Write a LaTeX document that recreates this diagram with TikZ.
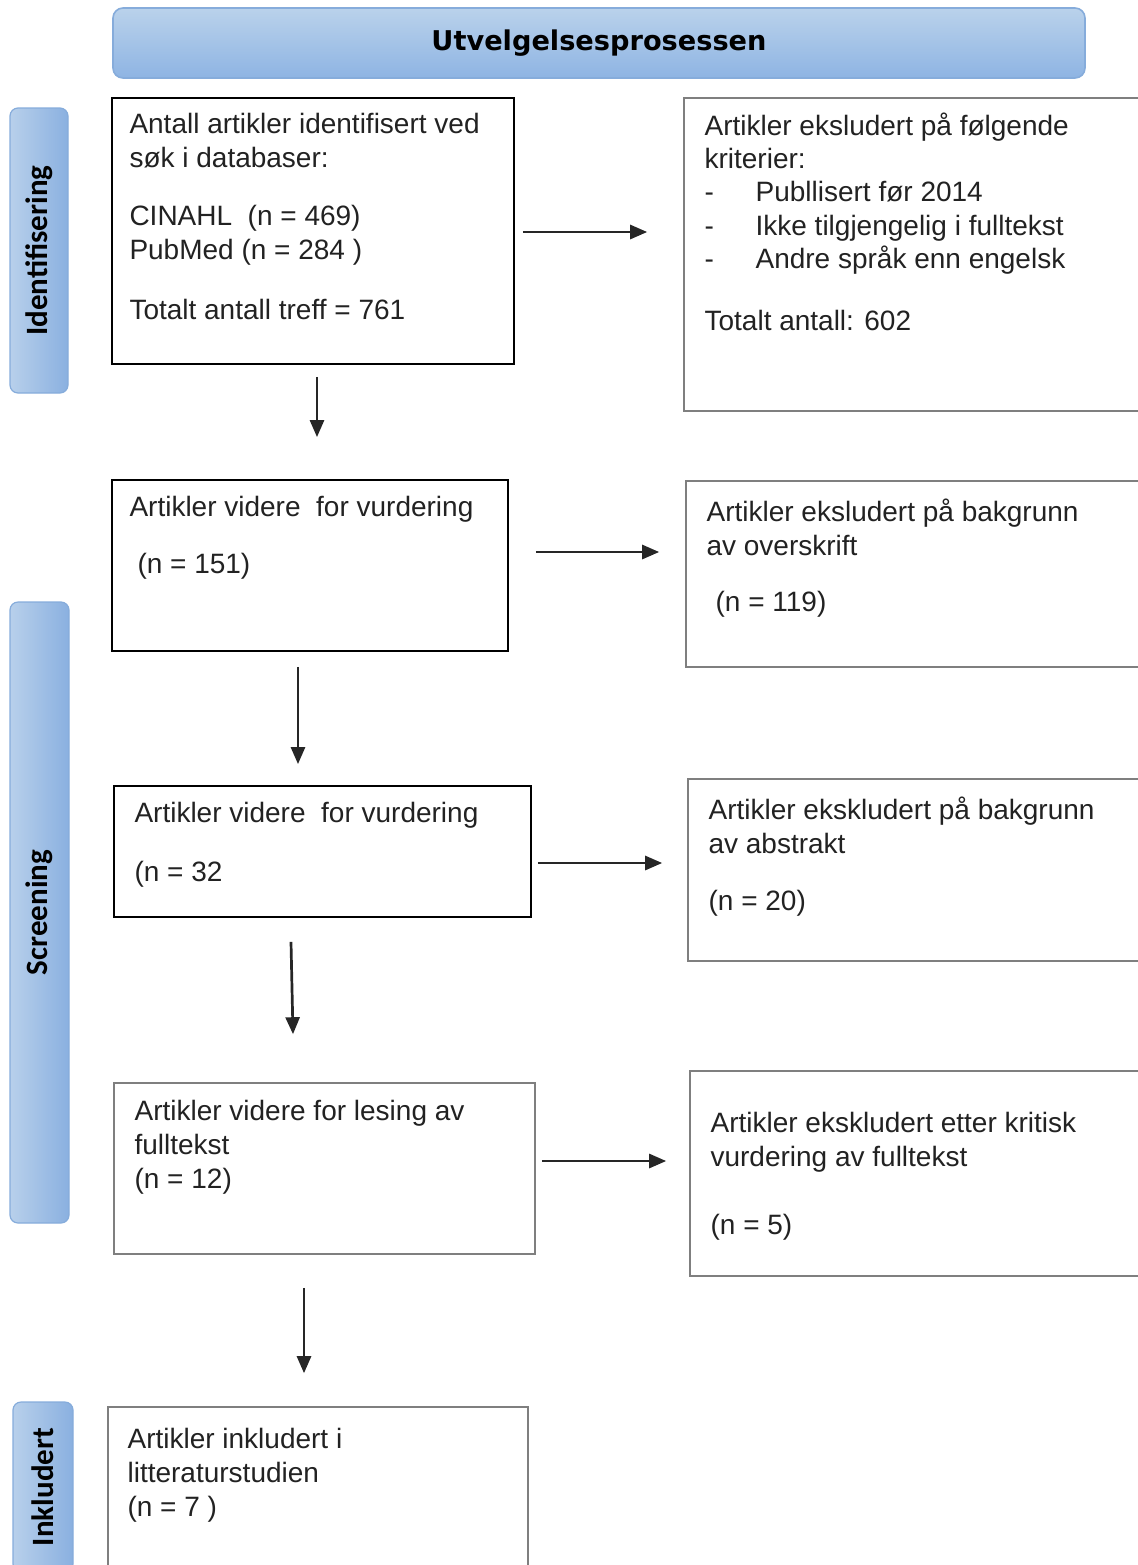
\documentclass[tikz,border=0pt]{standalone}
\usepackage{fontspec}
\setmainfont{Liberation Sans}
\newfontfamily\headfont{DejaVu Sans}
\newfontfamily\sidefont{Carlito}
\usetikzlibrary{arrows.meta,positioning,calc,shadows}
\definecolor{uvTop}  {HTML}{BAD2EB}
\definecolor{uvBot}  {HTML}{8EB4E3}
\definecolor{uvEdge} {HTML}{86ACDB}
\definecolor{uvLight}{HTML}{B8D0EB}
\definecolor{uvDark} {HTML}{8AB0E0}
\definecolor{uvGrey} {HTML}{7F7F7F}
\definecolor{uvInk}  {HTML}{222222}

\begin{document}
\begin{tikzpicture}[x=0.5pt,y=-0.5pt,
      lb/.style={draw=black,line width=0.9pt,fill=white,inner sep=0pt},
      gb/.style={draw=uvGrey,line width=0.8pt,fill=white,inner sep=0pt,
                 drop shadow={shadow xshift=0.7pt,shadow yshift=-0.7pt,fill=uvGrey,opacity=1}},
      tx/.style={inner sep=0pt,align=left,text=uvInk,font=\fontsize{14}{17}\selectfont},
      hd/.style={draw=uvEdge,line width=0.8pt,rounded corners=5pt,top color=uvTop,bottom color=uvBot,
                 font=\headfont\bfseries\fontsize{13.6}{16}\selectfont},
      sd/.style={draw=uvEdge,line width=0.6pt,rounded corners=4pt,inner sep=0pt,left color=uvLight,right color=uvDark,
                 font=\sidefont\bfseries\fontsize{15.5}{18}\selectfont},
      arr/.style={-{Triangle[length=8.5pt,width=7pt]},line width=1.35pt,draw=black!85}]
    \useasboundingbox (0,0) rectangle (1138,1565);
    \clip (0,0) rectangle (1138,1565);

    % header and phase bars
    \node[hd,minimum width=486pt,minimum height=35pt] (hd) at (599,43) {Utvelgelsesprosessen};
    \node[sd,minimum width=29pt,minimum height=142.5pt] (s1) at (39,250.5) {\rotatebox{90}{Identifisering}};
    \node[sd,minimum width=29.5pt,minimum height=310.5pt] (s2) at (39.5,912.5) {\rotatebox{90}{Screening}};
    \node[sd,minimum width=30pt,minimum height=85pt] (s3) at (43,1487) {\rotatebox{90}{Inkludert}};

    % left column
    \node[lb,minimum width=201pt,minimum height=133pt]   (l1) at (313,231) {};
    \node[lb,minimum width=198pt,minimum height=85.5pt]  (l2) at (310,565.5) {};
    \node[lb,minimum width=208.5pt,minimum height=65.5pt](l3) at (322.5,851.5) {};
    \node[gb,minimum width=210.5pt,minimum height=85.5pt](l4) at (324.5,1168.5) {};
    \node[gb,minimum width=210pt,minimum height=86.5pt]  (l5) at (318,1493.5) {};

    % right column
    \node[gb,minimum width=233pt,minimum height=156.5pt] (r1) at (917,254.5) {};
    \node[gb,minimum width=232pt,minimum height=93pt]    (r2) at (918,574) {};
    \node[gb,minimum width=231pt,minimum height=91pt]    (r3) at (919,870) {};
    \node[gb,minimum width=230pt,minimum height=102.5pt] (r4) at (920,1173.5) {};

    % texts
    \node[tx,below right=8pt and 9pt of l1.north west] (t1) {Antall artikler identifisert ved\\søk i databaser:\\[12pt]CINAHL\ \ (n = 469)\\PubMed (n = 284 )\\[13pt]Totalt antall treff = 761};
    \node[tx,below right=8.5pt and 9pt of l2.north west] (t2) {Artikler videre\ \ for vurdering\\[11.5pt]\hspace*{4pt}(n = 151)};
    \node[tx,below right=8.5pt and 10.5pt of l3.north west] (t3) {Artikler videre\ \ for vurdering\\[12.5pt](n = 32};
    \node[tx,below right=9pt and 10.5pt of l4.north west] (t4) {Artikler videre for lesing av\\fulltekst\\(n = 12)};
    \node[tx,below right=11pt and 10pt of l5.north west] (t5) {Artikler inkludert i\\litteraturstudien\\(n = 7 )};
    \node[tx,below right=7.5pt and 10.5pt of r1.north west,font=\fontsize{14}{16.7}\selectfont] (u1) {Artikler eksludert på følgende\\kriterier:\\
      \makebox[25.5pt][l]{-}Publlisert før 2014\\
      \makebox[25.5pt][l]{-}Ikke tilgjengelig i fulltekst\\
      \makebox[25.5pt][l]{-}Andre språk enn engelsk\\[14pt]Totalt antall: 602};
    \node[tx,below right=9pt and 10.5pt of r2.north west] (u2) {Artikler eksludert på bakgrunn\\av overskrift\\[11pt]\hspace*{4.5pt}(n = 119)};
    \node[tx,below right=9pt and 10.5pt of r3.north west] (u3) {Artikler ekskludert på bakgrunn\\av abstrakt\\[11.5pt](n = 20)};
    \node[tx,below right=21pt and 10.5pt of r4.north west] (u4) {Artikler ekskludert etter kritisk\\vurdering av fulltekst\\[17pt](n = 5)};

    % arrows
    \draw[arr] ($(l1.east)+(8,1)$) -- ($(l1.east -| r1.west)+(-36,1)$);
    \draw[arr] ($(l2.east)+(27,-13.5)$) -- ($(l2.east -| r2.west)+(-26,-13.5)$);
    \draw[arr] ($(l3.east)+(6,11.5)$) -- ($(l3.east -| r3.west)+(-25,11.5)$);
    \draw[arr] ($(l4.east)+(6,-7.5)$) -- ($(l4.east -| r4.west)+(-23,-7.5)$);
    \draw[arr] ($(l1.south)+(4,12)$) -- ($(l1.south |- l2.north)+(4,-42)$);
    \draw[arr] ($(l2.south)+(-12,15)$) -- ($(l2.south |- l3.north)+(-12,-21)$);
    \draw[arr] ($(l3.south)+(-31.5,24)$) -- ($(l3.south |- l4.north)+(-29.5,-48)$);
    \draw[arr] ($(l4.south)+(-20.5,33)$) -- ($(l4.south |- l5.north)+(-20.5,-33)$);
  \end{tikzpicture}
\end{document}
